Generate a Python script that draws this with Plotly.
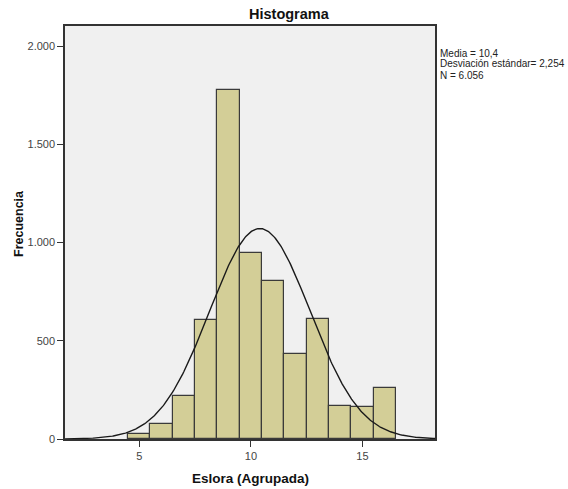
import numpy as np
import plotly.graph_objects as go

bin_centers = [5, 6, 7, 8, 9, 10, 11, 12, 13, 14, 15, 16]
counts = [25, 76, 220, 607, 1776, 947, 804, 433, 611, 169, 161, 260]
mean_val = 10.4
sd_val = 2.254
n_val = 6056
y_ticks = [0, 500, 1000, 1500, 2000]
x_ticks = [5, 10, 15]
stats_lines = ["Media = 10,4", "Desviación estándar= 2,254", "N = 6.056"]

x_range = [1.67, 18.25]
xs = np.linspace(x_range[0], x_range[1], 400)
curve = n_val * 1.0 / (sd_val * np.sqrt(2 * np.pi)) * np.exp(-0.5 * ((xs - mean_val) / sd_val) ** 2)

W, H = 568, 489
L, R, T, B = 65, 435, 26, 439

fig = go.Figure()
fig.add_trace(go.Bar(
    x=bin_centers, y=counts, width=1,
    marker=dict(color="#D3CE97", line=dict(color="#3a3a3a", width=1.2)),
    hoverinfo="x+y", showlegend=False,
))
fig.add_trace(go.Scatter(
    x=xs, y=curve, mode="lines",
    line=dict(color="#1a1a1a", width=1.4),
    hoverinfo="skip", showlegend=False,
))

font_family = "Liberation Sans, Arial, sans-serif"
annotations = []
for i, line in enumerate(stats_lines):
    yc = 53 + 11 * i
    annotations.append(dict(
        xref="paper", yref="paper", x=1.0, y=(B - yc) / (B - T),
        xanchor="left", yanchor="middle", xshift=4, align="left", showarrow=False,
        borderpad=0,
        text=line, font=dict(size=10, color="#222222", family=font_family)))
annotations += [
    dict(xref="paper", yref="paper", x=(289 - L) / (R - L), y=1, yshift=12,
         xanchor="center", yanchor="middle", showarrow=False,
         text="<b>Histograma</b>",
         font=dict(size=14.5, color="#111111", family=font_family)),
    dict(xref="paper", yref="paper", x=(250 - L) / (R - L), y=0, yshift=-(478 - B),
         xanchor="center", yanchor="middle", showarrow=False,
         text="<b>Eslora (Agrupada)</b>",
         font=dict(size=13.5, color="#111111", family=font_family)),
    dict(xref="paper", yref="paper", x=0, xshift=-(L - 19), y=(B - 224) / (B - T),
         xanchor="center", yanchor="middle", showarrow=False, textangle=-90,
         text="<b>Frecuencia</b>",
         font=dict(size=12.5, color="#111111", family=font_family)),
]

fig.update_layout(
    width=W, height=H,
    margin=dict(l=L, r=W - R, t=T, b=H - B, autoexpand=False),
    paper_bgcolor="white",
    plot_bgcolor="#F0F0F0",
    separators=",.",
    bargap=0,
    font=dict(family=font_family, size=11, color="#333333"),
    xaxis=dict(
        range=x_range, tickvals=x_ticks, ticks="outside", ticklen=6, tickwidth=1,
        tickcolor="#333333", showgrid=False, zeroline=False, automargin=False,
        showline=True, linecolor="#333333", linewidth=1.5, mirror=True,
        tickfont=dict(size=11, color="#444444"),
    ),
    yaxis=dict(
        range=[0, 2103], tickvals=y_ticks, ticks="outside", ticklen=6, tickwidth=1,
        tickcolor="#333333", showgrid=False, zeroline=False, automargin=False,
        showline=True, linecolor="#333333", linewidth=1.5, mirror=True,
        separatethousands=True,
        tickfont=dict(size=11, color="#444444"),
    ),
    annotations=annotations,
)

fig.write_html("out.html", config={"displayModeBar": False},
               post_script="document.body.style.margin='0';document.body.style.padding='0';")
